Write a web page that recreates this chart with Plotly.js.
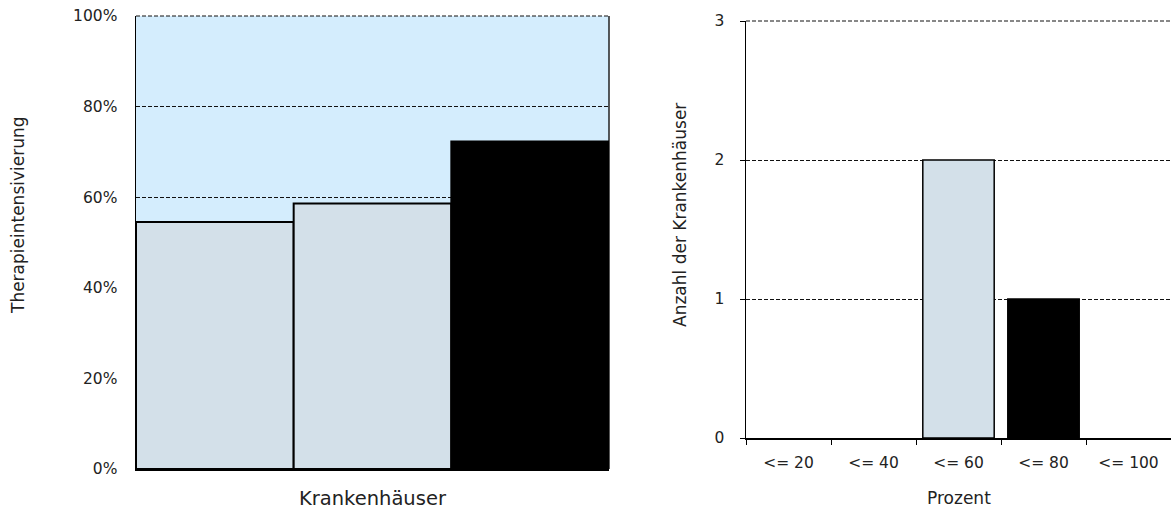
<!DOCTYPE html>
<html><head><meta charset="utf-8">
<script src="https://cdn.plot.ly/plotly-3.0.1.min.js"></script>
<style>html,body{margin:0;padding:0;background:#fff}#chart{width:1171px;height:514px}</style>
</head><body><div id="chart"></div>
<script>
const hospitals = ["KH 1", "KH 2", "KH 3"];
const intensity = [0.545, 0.586, 0.723];
const hospitalColors = ["#d3e0e9", "#d3e0e9", "#000000"];
const bins = ["<= 20", "<= 40", "<= 60", "<= 80", "<= 100"];
const counts = [0, 0, 2, 1, 0];
const binColors = ["#d3e0e9", "#d3e0e9", "#d3e0e9", "#000000", "#d3e0e9"];
const leftTickVals = [0, 0.2, 0.4, 0.6, 0.8, 1];
const leftTickText = ["0%", "20%", "40%", "60%", "80%", "100%"];
const rightTickVals = [0, 1, 2, 3];

const W = 1171, H = 514;
const FONT = "DejaVu Sans, Verdana, sans-serif";
const px = v => v / W, py = v => 1 - v / H;
const DASH = "4px,2px";

const traces = [
  {type: "bar", x: hospitals, y: intensity, xaxis: "x", yaxis: "y", width: 1,
   marker: {color: hospitalColors, line: {color: "#000", width: 2}},
   hoverinfo: "skip", showlegend: false},
  {type: "bar", x: bins, y: counts, xaxis: "x2", yaxis: "y2", width: 0.84,
   marker: {color: binColors, line: {color: "#000", width: counts.map(c => c > 0 ? 1.5 : 0)}},
   hoverinfo: "skip", showlegend: false}
];

const grid = {showgrid: true, gridcolor: "#111", griddash: DASH, gridwidth: 1};

const layout = {
  width: W, height: H,
  margin: {l: 0, r: 0, t: 0, b: 0},
  paper_bgcolor: "#fff", plot_bgcolor: "rgba(0,0,0,0)",
  font: {family: FONT, size: 15.5, color: "#222"},
  xaxis: {domain: [px(136), px(609)], anchor: "y", type: "category",
          showticklabels: false, ticks: "", showgrid: false, zeroline: false,
          showline: true, linecolor: "#000", linewidth: 2},
  yaxis: {domain: [py(469), py(16)], anchor: "x", range: [0, 1],
          tickvals: leftTickVals, ticktext: leftTickText, ticks: "",
          ticklabelstandoff: 14, tickfont: {size: 15.5},
          ...grid, zeroline: false,
          showline: true, linecolor: "#000", linewidth: 1.5},
  xaxis2: {domain: [px(746), 1], anchor: "y2", type: "category",
           ticks: "outside", tickson: "boundaries", ticklen: 5, tickcolor: "#000",
           ticklabelstandoff: 10, tickfont: {size: 15.5}, showgrid: false, zeroline: false,
           showline: true, linecolor: "#000", linewidth: 1.5},
  yaxis2: {domain: [py(438), py(21)], anchor: "x2", range: [0, 3],
           tickvals: rightTickVals, ticks: "outside", ticklen: 5, tickcolor: "#000",
           ticklabelstandoff: 12, tickfont: {size: 15.5},
           ...grid, zeroline: false,
           showline: true, linecolor: "#000", linewidth: 1.5},
  shapes: [
    {type: "rect", xref: "x domain", yref: "y domain", x0: 0, x1: 1, y0: 0, y1: 1,
     fillcolor: "#d4edfd", line: {width: 0}, layer: "below"},
    {type: "line", xref: "x domain", yref: "y domain", x0: 0, x1: 1, y0: 1, y1: 1,
     line: {color: "#111", width: 1, dash: DASH}, layer: "below"},
    {type: "line", xref: "x domain", yref: "y domain", x0: 1, x1: 1, y0: 0, y1: 1,
     line: {color: "#222", width: 1.5}, layer: "below"},
    {type: "line", xref: "x2 domain", yref: "y2 domain", x0: 0, x1: 1, y0: 1, y1: 1,
     line: {color: "#111", width: 1, dash: DASH}, layer: "below"}
  ],
  annotations: [
    {text: "Therapieintensivierung", xref: "paper", yref: "paper", x: px(18), y: py(215),
     textangle: -90, showarrow: false, font: {size: 17}, xanchor: "center", yanchor: "middle"},
    {text: "Krankenhäuser", xref: "paper", yref: "paper", x: px(372.5), y: py(498),
     showarrow: false, font: {size: 19.5}, xanchor: "center", yanchor: "middle"},
    {text: "Anzahl der Krankenhäuser", xref: "paper", yref: "paper", x: px(680), y: py(215),
     textangle: -90, showarrow: false, font: {size: 17}, xanchor: "center", yanchor: "middle"},
    {text: "Prozent", xref: "paper", yref: "paper", x: px(958.5), y: py(498),
     showarrow: false, font: {size: 17}, xanchor: "center", yanchor: "middle"}
  ]
};

Plotly.newPlot("chart", traces, layout, {staticPlot: true, displayModeBar: false});
</script>
</body></html>
